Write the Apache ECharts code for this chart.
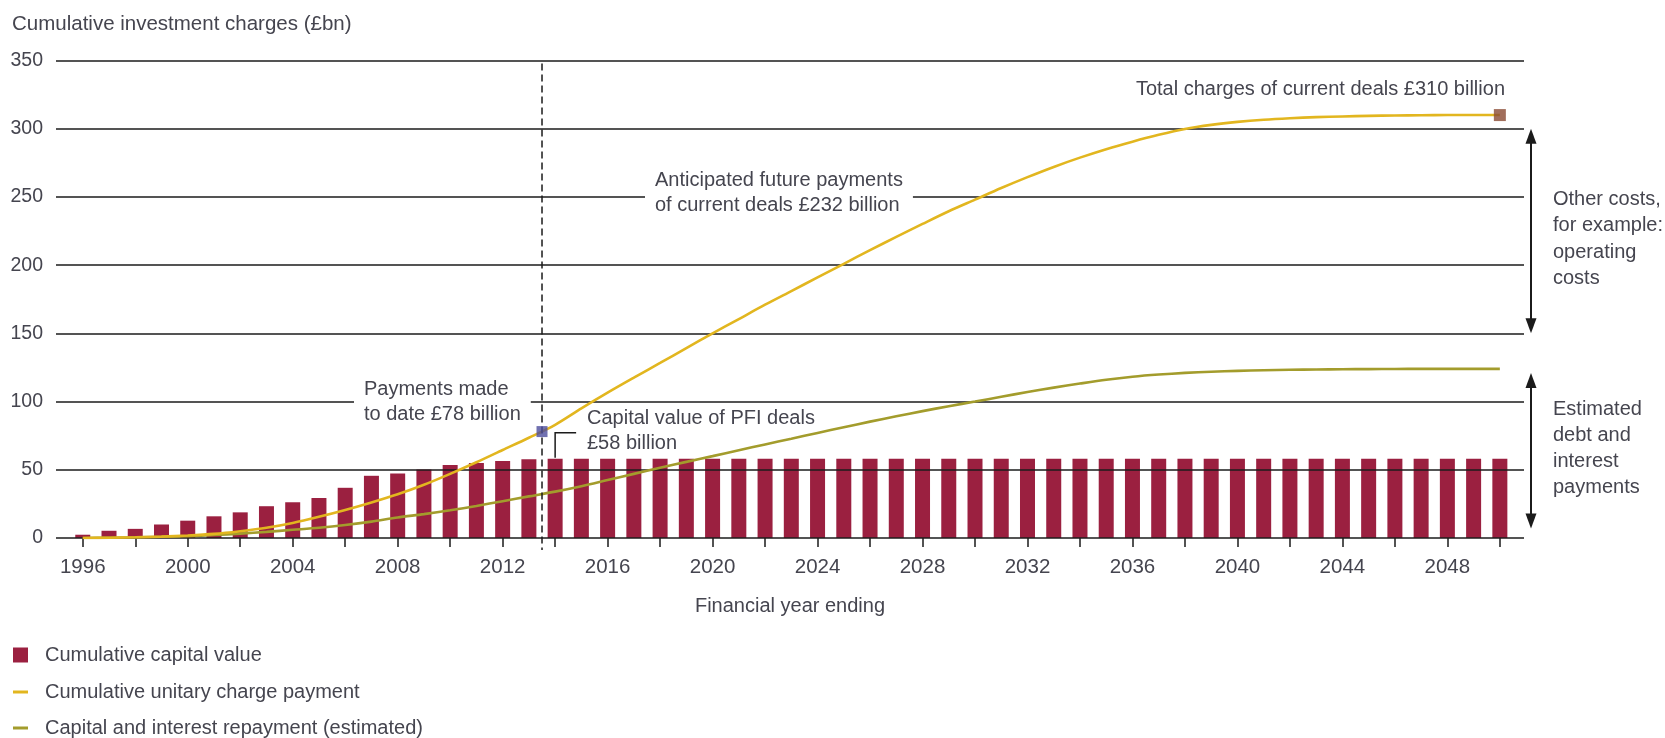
<!DOCTYPE html>
<html>
<head>
<meta charset="utf-8">
<script src="https://cdn.jsdelivr.net/npm/echarts@6/dist/echarts.min.js"></script>
<style>
  html, body { margin: 0; padding: 0; background: #ffffff; }
  #chart { width: 1665px; height: 738px; }
</style>
</head>
<body>
<div id="chart"></div>
<script>
// Financial years ending
const years = [
  1996, 1997, 1998, 1999, 2000, 2001, 2002, 2003, 2004, 2005,
  2006, 2007, 2008, 2009, 2010, 2011, 2012, 2013, 2014, 2015,
  2016, 2017, 2018, 2019, 2020, 2021, 2022, 2023, 2024, 2025,
  2026, 2027, 2028, 2029, 2030, 2031, 2032, 2033, 2034, 2035,
  2036, 2037, 2038, 2039, 2040, 2041, 2042, 2043, 2044, 2045,
  2046, 2047, 2048, 2049, 2050
];

// Cumulative capital value (£bn)
const capitalValue = [
  2.4, 5.3, 6.7, 9.9, 12.7, 15.9, 18.8, 23.3, 26.2, 29.3,
  36.8, 45.6, 47.2, 50.3, 53.5, 55.0, 56.5, 57.7, 58, 58,
  58, 58, 58, 58, 58, 58, 58, 58, 58, 58,
  58, 58, 58, 58, 58, 58, 58, 58, 58, 58,
  58, 58, 58, 58, 58, 58, 58, 58, 58, 58,
  58, 58, 58, 58, 58
];

// Cumulative unitary charge payment (£bn)
const unitaryCharge = [
  0, 0.2, 0.5, 1.0, 1.8, 3.0, 5.0, 7.5, 11.0, 15.5,
  20.5, 26.0, 32.0, 39.0, 47.0, 55.5, 64.5, 73.5, 83.0, 95.0,
  106.5, 117.5, 128.3, 139.2, 150.0, 160.5, 171.0, 181.0, 191.0, 201.0,
  211.0, 220.7, 230.2, 239.5, 248.0, 256.5, 264.5, 272.0, 278.8, 285.0,
  290.5, 295.5, 299.8, 302.8, 305.0, 306.6, 307.7, 308.5, 309.0, 309.4,
  309.7, 309.9, 310.0, 310.0, 310.0
];

// Capital and interest repayment, estimated (£bn)
const capitalInterest = [
  0, 0.2, 0.5, 0.9, 1.4, 2.2, 3.2, 4.5, 6.0, 7.5,
  9.5, 12.0, 15.0, 17.5, 20.3, 23.5, 27.0, 30.5, 34.0, 38.0,
  42.5, 47.0, 51.5, 55.8, 60.0, 64.3, 68.6, 72.8, 77.0, 81.2,
  85.3, 89.2, 93.0, 96.6, 100.0, 103.5, 107.0, 110.2, 113.2, 116.0,
  118.2, 119.8, 121.0, 121.9, 122.5, 123.0, 123.3, 123.5, 123.7, 123.8,
  123.9, 124.0, 124.0, 124.0, 124.0
];

// Axis ticks and labels
const tickYears = [
  1996, 1998, 2000, 2002, 2004, 2006, 2008, 2010, 2012, 2014,
  2016, 2018, 2020, 2022, 2024, 2026, 2028, 2030, 2032, 2034,
  2036, 2038, 2040, 2042, 2044, 2046, 2048, 2050
];
const labelYears = [
  1996, 2000, 2004, 2008, 2012, 2016, 2020, 2024, 2028, 2032,
  2036, 2040, 2044, 2048
];

// Highlighted points and annotation anchors
const paymentsToDate = [2013.5, 78];
const totalCharges = [2050, 310];
const cutoffYear = 2013.5;
const capitalPointer = [2014, 58];
const otherCostsSpan = [300, 150];
const debtSpan = [121, 7];

const FONT = "'Liberation Sans', Arial, Helvetica, sans-serif";
const TEXT = '#45454f';
const FS = 20;
const BAR = '#9b2040';
const YELLOW = '#e2b61f';
const OLIVE = '#a39c2c';
const INK = '#1b1b1b';

const chart = echarts.init(document.getElementById('chart'), null, { renderer: 'canvas' });

const pairs = (vals) => years.map((y, i) => [y, vals[i]]);

function legendItem(name, top, iconHeight) {
  return {
    orient: 'vertical', left: 13, top: top, padding: 0,
    selectedMode: false, icon: 'rect', itemWidth: 15, itemHeight: iconHeight,
    data: [name],
    textStyle: { fontFamily: FONT, fontSize: FS, color: TEXT, lineHeight: 22, padding: [0, 0, 0, 12] }
  };
}

chart.setOption({
  animation: false,
  backgroundColor: '#ffffff',
  textStyle: { fontFamily: FONT },
  title: {
    text: 'Cumulative investment charges (£bn)',
    left: 12, top: 14, padding: 0,
    textStyle: { fontFamily: FONT, fontSize: 20.5, fontWeight: 'normal', color: TEXT }
  },
  grid: { left: 56, right: 141, top: 60.5, bottom: 200, containLabel: false },
  xAxis: {
    type: 'value',
    min: 1994.98, max: 2050.92,
    name: 'Financial year ending',
    nameLocation: 'middle', nameGap: 58,
    nameTextStyle: { fontFamily: FONT, fontSize: FS, color: TEXT },
    axisLine: { show: false },
    splitLine: { show: false },
    axisTick: {
      show: true, customValues: tickYears, length: 9, inside: false,
      lineStyle: { color: INK, width: 1.5 }
    },
    axisLabel: {
      customValues: labelYears, margin: 19,
      fontFamily: FONT, fontSize: 20.5, color: TEXT,
      formatter: (v) => String(v)
    }
  },
  yAxis: {
    type: 'value', min: 0, max: 350, interval: 50, z: 2,
    axisLine: { show: false },
    axisTick: { show: false },
    axisLabel: { margin: 13, fontFamily: FONT, fontSize: 19.5, color: TEXT },
    splitLine: { lineStyle: { color: INK, width: 1.5 } }
  },
  legend: [
    legendItem('Cumulative capital value', 644, 15),
    legendItem('Cumulative unitary charge payment', 681, 3),
    legendItem('Capital and interest repayment (estimated)', 717, 3)
  ],
  series: [
    {
      name: 'Cumulative capital value',
      type: 'bar', z: 1,
      barWidth: 15,
      itemStyle: { color: BAR },
      data: pairs(capitalValue)
    },
    {
      name: 'Capital and interest repayment (estimated)',
      type: 'line', z: 3,
      smooth: 0.3,
      showSymbol: false,
      lineStyle: { color: OLIVE, width: 2.6 },
      itemStyle: { color: OLIVE },
      data: pairs(capitalInterest)
    },
    {
      name: 'Cumulative unitary charge payment',
      type: 'line', z: 3,
      smooth: 0.3,
      showSymbol: false,
      lineStyle: { color: YELLOW, width: 2.6 },
      itemStyle: { color: YELLOW },
      data: pairs(unitaryCharge)
    },
    {
      name: 'Payments made to date',
      type: 'scatter', z: 16,
      symbol: 'rect', symbolSize: 11,
      itemStyle: { color: '#4d4e9c' },
      data: [paymentsToDate]
    },
    {
      name: 'Total charges',
      type: 'scatter', z: 16,
      symbol: 'rect', symbolSize: 12,
      itemStyle: { color: '#8a4a32' },
      data: [totalCharges]
    }
  ]
});

// Annotation overlay positioned through the chart's own scales
const px = (x, y) => chart.convertToPixel({ gridIndex: 0 }, [x, y]);

function doubleArrow(x, yTop, yBottom) {
  const hw = 5.5, hh = 15;
  return [
    { type: 'line', z: 20, shape: { x1: x, y1: yTop + hh - 2, x2: x, y2: yBottom - hh + 2 },
      style: { stroke: INK, lineWidth: 2 } },
    { type: 'polygon', z: 20, shape: { points: [[x, yTop], [x - hw, yTop + hh], [x + hw, yTop + hh]] },
      style: { fill: INK } },
    { type: 'polygon', z: 20, shape: { points: [[x, yBottom], [x - hw, yBottom - hh], [x + hw, yBottom - hh]] },
      style: { fill: INK } }
  ];
}

function label(left, top, text, lineHeight, boxed) {
  const style = { text: text, fill: TEXT, font: FS + 'px ' + FONT, lineHeight: lineHeight };
  if (boxed) {
    style.backgroundColor = '#ffffff';
    style.padding = [0, 10, 0, 10];
  }
  return { type: 'text', z: 20, left: left, top: top, style: style };
}

const cutTop = px(cutoffYear, 350);
const cutBottom = px(cutoffYear, 0);
const ptr = px(capitalPointer[0], capitalPointer[1]);
const arrowX = 1531;

const graphics = [
  // boundary between past payments and future years
  { type: 'line', z: 15,
    shape: { x1: cutTop[0], y1: cutTop[1] + 3, x2: cutBottom[0], y2: cutBottom[1] + 12 },
    style: { stroke: INK, lineWidth: 1.5, lineDash: [7, 4] } },
  // pointer to the capital value bar
  { type: 'polyline', z: 15,
    shape: { points: [[ptr[0], ptr[1] - 1], [ptr[0], ptr[1] - 26], [ptr[0] + 21, ptr[1] - 26]] },
    style: { stroke: INK, lineWidth: 1.5, fill: null } },
  ...doubleArrow(arrowX, px(2050, otherCostsSpan[0])[1], px(2050, otherCostsSpan[1])[1]),
  ...doubleArrow(arrowX, px(2050, debtSpan[0])[1], px(2050, debtSpan[1])[1]),
  // labels
  label(354, 377, 'Payments made\nto date £78 billion', 25, true),
  label(645, 168, 'Anticipated future payments\nof current deals £232 billion', 25, true),
  label(587, 406, 'Capital value of PFI deals\n£58 billion', 25, false),
  { type: 'text', z: 20, right: 1665 - 1505, top: 79,
    style: { text: 'Total charges of current deals £310 billion', fill: TEXT, font: FS + 'px ' + FONT,
      align: 'right' } },
  label(1553, 186, 'Other costs,\nfor example:\noperating\ncosts', 26.5, false),
  label(1553, 396, 'Estimated\ndebt and\ninterest\npayments', 26, false)
];

chart.setOption({ graphic: graphics });
</script>
</body>
</html>
